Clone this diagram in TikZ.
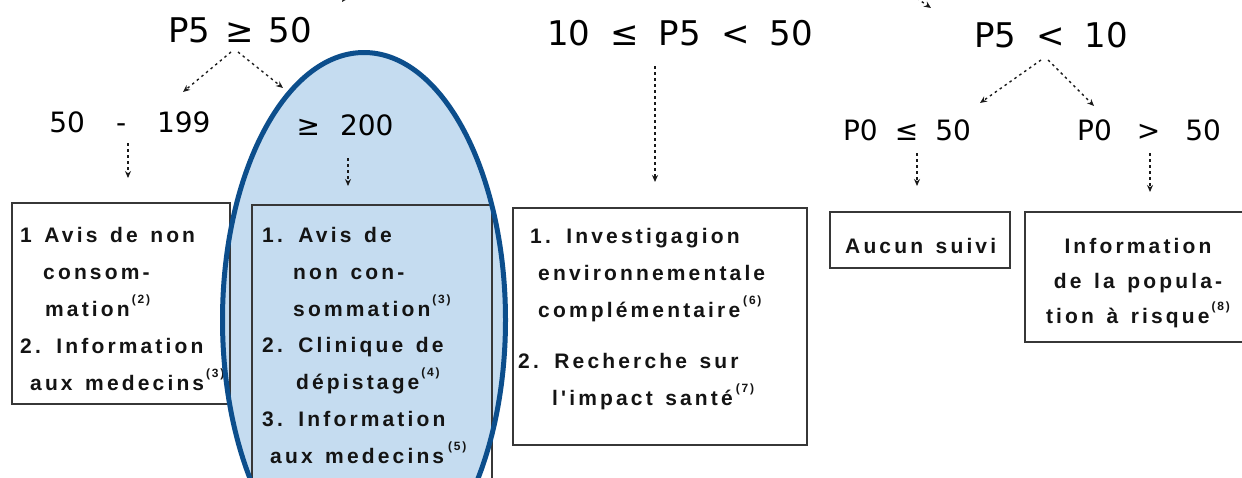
\documentclass[tikz,border=0pt]{standalone}
\usepackage{fontspec}
\setmainfont{Liberation Sans}
\newfontfamily\lbf{DejaVu Sans}
\newfontfamily\bxf[LetterSpace=15,WordSpace=1.4]{Liberation Sans}
\usetikzlibrary{arrows.meta}
\definecolor{ellfill}{RGB}{197,220,240}
\definecolor{elldraw}{RGB}{12,78,140}
\definecolor{boxline}{RGB}{55,55,55}
\newcommand\fnm[1]{\smash{\raisebox{13pt}{\fontsize{12}{12}\selectfont(#1)}}}
\begin{document}
\begin{tikzpicture}[x=1pt,y=-1pt,
  lone/.style={font=\lbf\fontsize{34}{40}\selectfont, inner sep=0, anchor=base},
  ltwo/.style={font=\lbf\fontsize{28}{32}\selectfont, inner sep=0, anchor=base},
  boxst/.style={draw=boxline, line width=2pt, inner sep=0, outer sep=0, anchor=north west},
  txt/.style={font=\bxf\bfseries\fontsize{21}{37}\selectfont, inner sep=0, align=left, anchor=base west, text=black!92},
  arr/.style={line width=1.4pt, dash pattern=on 2.5pt off 3.5pt, -{Stealth[length=7pt,width=6pt]}, black!90}
]
\useasboundingbox (0,0) rectangle (1242,477);
\fill[ellfill] (364,320) ellipse [x radius=141.5pt, y radius=267.5pt];

% labels
\node[lone] (p5a) at (240,42) {P5\hspace{15pt}≥\hspace{15pt}50};
\node[lone] (p5b) at (680,45) {10\hspace{20pt}≤\hspace{20pt}P5\hspace{20pt}<\hspace{20pt}50};
\node[lone] (p5c) at (1051,47) {P5\hspace{20pt}<\hspace{20pt}10};
\node[ltwo] (l50) at (130,132) {50\hspace{31pt}-\hspace{31pt}199};
\node[ltwo] (l200) at (345,135) {≥\hspace{20pt}200};
\node[ltwo] (p0a) at (907,140) {P0\hspace{17pt}≤\hspace{17pt}50};
\node[ltwo] (p0b) at (1149,140) {P0\hspace{25pt}>\hspace{25pt}50};

% boxes
\node[boxst, minimum width=218pt, minimum height=201pt] (b1) at (12,203) {};
\node[boxst, minimum width=240pt, minimum height=295pt] (b2) at (252,205) {};
\node[boxst, minimum width=294pt, minimum height=237pt] (b3) at (513,208) {};
\node[boxst, minimum width=180pt, minimum height=56pt] (b4) at (830,212) {};
\node[boxst, minimum width=245pt, minimum height=130pt] (b5) at (1025,212) {};

% box texts (base = baseline of last line)
\node[txt] (t1) at ([shift={(8,187)}]b1.north west)
  {1 Avis de non\\\hspace*{23pt}consom-\\\hspace*{25pt}mation\kern2pt\fnm{2}\\2. Information\\\hspace*{10pt}aux medecins\kern2pt\fnm{3}};
\node[txt, font=\bxf\bfseries\fontsize{21}{36.7}\selectfont] (t2) at ([shift={(10,258)}]b2.north west)
  {1. Avis de\\\hspace*{31pt}non con-\\\hspace*{31pt}sommation\kern2pt\fnm{3}\\2. Clinique de\\\hspace*{34pt}dépistage\kern2pt\fnm{4}\\3. Information\\\hspace*{8pt}aux medecins\kern4pt\fnm{5}};
\node[txt] (t3) at ([shift={(5,197)}]b3.north west)
  {\hspace*{12pt}1. Investigagion\\\hspace*{20pt}environnementale\\\hspace*{20pt}complémentaire\kern3pt\fnm{6}\\[14pt]2. Recherche sur\\\hspace*{34pt}l'impact santé\kern3pt\fnm{7}};
\node[txt] (t4) at ([shift={(15,41)}]b4.north west) {Aucun suivi};
\node[txt, align=center, anchor=base, font=\bxf\bfseries\fontsize{21}{35}\selectfont] (t5) at ([shift={(113,111)}]b5.north west)
  {Information\\de la popula-\\tion à risque\kern2pt\fnm{8}};

% connectors
\draw[arr] ([shift={(-9,10)}]p5a.base) -- ([shift={(53,-40)}]l50.base);
\draw[arr] ([shift={(-2,10)}]p5a.base) -- ([shift={(-62,-47)}]l200.base);
\draw[arr] ([shift={(-2,11)}]l50.base) -- ([shift={(116,-25)}]b1.north west);
\draw[arr] ([shift={(3,23)}]l200.base) -- ([shift={(96,-19)}]b2.north west);
\draw[arr] ([shift={(-25,21)}]p5b.base) -- ([shift={(142,-26)}]b3.north west);
\draw[arr] ([shift={(-10,13)}]p5c.base) -- ([shift={(73,-37)}]p0a.base);
\draw[arr] ([shift={(-3,13)}]p5c.base) -- ([shift={(-55,-34)}]p0b.base);
\draw[arr] ([shift={(10,13)}]p0a.base) -- ([shift={(87,-26)}]b4.north west);
\draw[arr] ([shift={(1,13)}]p0b.base) -- ([shift={(125,-20)}]b5.north west);
\coordinate (inA) at (354,-14);
\coordinate (tipA) at (342,2);
\draw[arr] (inA) -- (tipA);
\coordinate (inB) at (902,-12);
\coordinate (tipB) at (931,8);
\draw[arr] (inB) -- (tipB);

\draw[elldraw, line width=5pt] (364,320) ellipse [x radius=141.5pt, y radius=267.5pt];
\end{tikzpicture}
\end{document}
